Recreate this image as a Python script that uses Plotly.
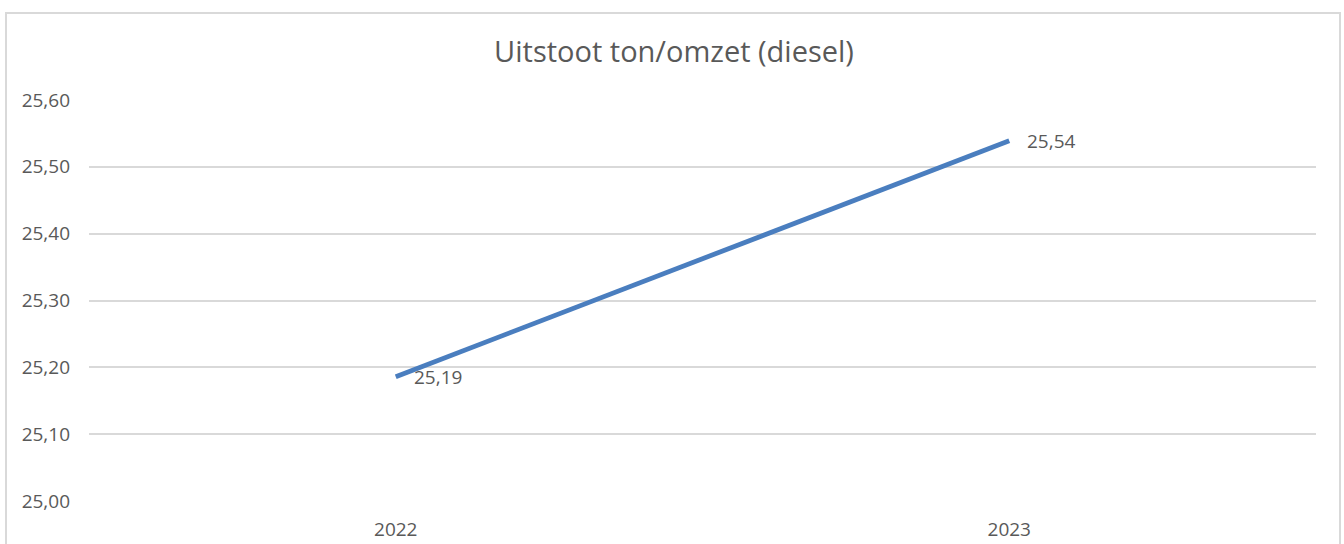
import plotly.graph_objects as go

years = ["2022", "2023"]
uitstoot = [25.186, 25.539]
y_ticks = [25.0, 25.1, 25.2, 25.3, 25.4, 25.5, 25.6]

FONT = "Open Sans"
GREY = "#595959"

fig = go.Figure()
fig.add_trace(go.Scatter(
    x=[0, 1], y=uitstoot,
    mode="lines",
    line=dict(color="#4a7ebf", width=4.8),
    hoverinfo="skip",
))

for xi, v in enumerate(uitstoot):
    fig.add_annotation(
        x=xi, y=v, xref="x", yref="y",
        text=f"{v:.2f}".replace(".", ","),
        showarrow=False, xanchor="left", yanchor="middle", xshift=16,
        font=dict(family=FONT, size=19, color=GREY),
    )

fig.update_layout(
    width=1344, height=544,
    margin=dict(l=89, r=28, t=100, b=43, autoexpand=False),
    paper_bgcolor="white", plot_bgcolor="white",
    separators=",.",
    showlegend=False,
    title=dict(text="Uitstoot ton/omzet (diesel)", xref="container", x=674 / 1344,
               xanchor="center", y=1 - 52 / 544, yanchor="middle",
               font=dict(family=FONT, size=29, color=GREY)),
    xaxis=dict(range=[-0.5, 1.5], tickvals=[0, 1], ticktext=years,
               showgrid=False, zeroline=False, showline=False, automargin=False,
               ticks="outside", ticklen=0, ticklabelstandoff=11,
               tickfont=dict(family=FONT, size=19, color=GREY)),
    yaxis=dict(range=[25.0, 25.6], tickvals=y_ticks, tickformat=".2f",
               showgrid=True, gridcolor="#d9d9d9", gridwidth=1.5, automargin=False,
               zeroline=False, showline=False, ticklabelstandoff=18,
               tickfont=dict(family=FONT, size=19, color=GREY)),
    shapes=[dict(type="rect", xref="paper", yref="paper",
                 x0=(6 - 89) / 1227, x1=(1340 - 89) / 1227,
                 y0=(501 - 560) / 401, y1=(501 - 13) / 401,
                 line=dict(color="#d9d9d9", width=2), fillcolor="rgba(0,0,0,0)",
                 layer="below")],
)

fig.write_html("out.html", config={"displayModeBar": False},
               post_script="document.body.style.margin='0';document.body.style.overflow='hidden';")
